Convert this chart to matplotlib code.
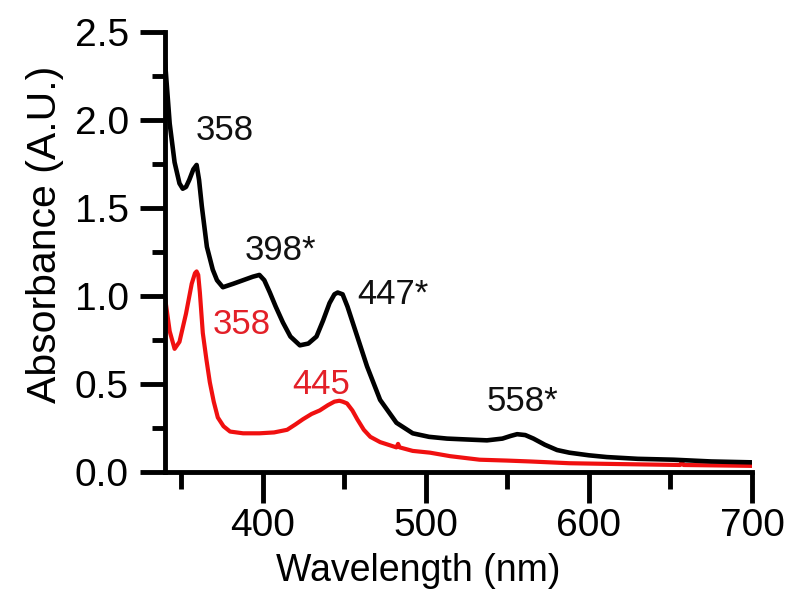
import matplotlib
matplotlib.use('Agg')
from matplotlib import pyplot as plt
from matplotlib.ticker import MultipleLocator, FormatStrFormatter

plt.rcParams['font.family'] = ['Liberation Sans', 'DejaVu Sans']

# black trace (wavelength nm, absorbance)
black_nm = [340, 343, 346, 349, 351, 353, 355, 357.5, 359.5, 361, 362.7, 365.8, 369.4,
            372, 375.6, 382, 388, 394, 398, 401, 404.4, 408, 412.4, 417, 422.8, 428,
            433, 437, 441, 444, 446, 449, 452, 458, 464, 472, 482, 492, 502, 513, 525,
            537.5, 547, 552, 556, 561, 566, 573, 580.5, 588, 600, 611, 630, 652, 675, 700]
black_abs = [2.35, 1.98, 1.76, 1.64, 1.61, 1.62, 1.66, 1.72, 1.745, 1.66, 1.51, 1.28, 1.15,
             1.09, 1.05, 1.07, 1.09, 1.11, 1.12, 1.09, 1.02, 0.94, 0.85, 0.77, 0.72, 0.73,
             0.77, 0.86, 0.96, 1.01, 1.02, 1.01, 0.94, 0.77, 0.60, 0.41, 0.28, 0.22, 0.20, 0.19, 0.185,
             0.18, 0.19, 0.205, 0.215, 0.21, 0.19, 0.155, 0.125, 0.11, 0.095, 0.085, 0.075, 0.07, 0.06, 0.055]

# red trace
red_nm = [340, 343, 346, 349, 353, 356.5, 358.5, 359.5, 360.5, 361.5, 363.3, 365.5, 367.6,
          370, 372.5, 376, 380, 388, 398, 407, 415, 420, 424.7, 430, 435, 440, 444, 447,
          449, 451.7, 455, 458, 462, 466, 472, 482, 483, 484, 492, 502.6, 515, 533, 550,
          564, 588, 620, 656, 657, 658, 700]
red_abs = [1.00, 0.80, 0.70, 0.74, 0.90, 1.07, 1.13, 1.14, 1.12, 1.02, 0.79, 0.64, 0.51,
           0.40, 0.31, 0.26, 0.23, 0.22, 0.22, 0.225, 0.24, 0.27, 0.30, 0.33, 0.35, 0.38, 0.40, 0.405,
           0.40, 0.39, 0.35, 0.30, 0.24, 0.20, 0.17, 0.14, 0.16, 0.14, 0.12, 0.11, 0.09, 0.07, 0.065,
           0.06, 0.05, 0.045, 0.04, 0.06, 0.04, 0.035]

# peak labels: (text, left x, centre y)
black_labels = [('358', 359, 1.94), ('398*', 389, 1.26), ('447*', 458, 1.01), ('558*', 537, 0.40)]
red_labels = [('358', 369.4, 0.84), ('445', 418, 0.50)]

RED = '#f01010'
RED_TXT = '#e32028'

fig = plt.figure(figsize=(8, 6.01), dpi=100)
ax = fig.add_axes([0.206, 0.2146, 0.734, 0.732])

ax.plot(red_nm, red_abs, color=RED, lw=3.0, solid_joinstyle='round')
ax.plot(black_nm, black_abs, color='black', lw=3.3, solid_joinstyle='round')

for txt, x, y in black_labels:
    ax.text(x, y, txt, fontsize=25, color='#111111', ha='left', va='center')
for txt, x, y in red_labels:
    ax.text(x, y, txt, fontsize=25, color=RED_TXT, ha='left', va='center')

ax.set_xlim(340, 700)
ax.set_ylim(0, 2.5)
ax.xaxis.set_major_locator(MultipleLocator(100))
ax.xaxis.set_minor_locator(MultipleLocator(50))
ax.yaxis.set_major_locator(MultipleLocator(0.5))
ax.yaxis.set_minor_locator(MultipleLocator(0.25))
ax.yaxis.set_major_formatter(FormatStrFormatter('%.1f'))

for s in ['top', 'right']:
    ax.spines[s].set_visible(False)
for s in ['left', 'bottom']:
    ax.spines[s].set_linewidth(3.5)

ax.tick_params(axis='x', which='major', length=22, width=3.5, labelsize=28, pad=4)
ax.tick_params(axis='x', which='minor', length=12, width=3.5)
ax.tick_params(axis='y', which='major', length=18, width=3.5, labelsize=28, pad=8)
ax.tick_params(axis='y', which='minor', length=9.5, width=3.5)

ax.set_xlabel('Wavelength (nm)', fontsize=27)
ax.set_ylabel('Absorbance (A.U.)', fontsize=29.5)
ax.xaxis.set_label_coords(0.431, -0.185)
ax.yaxis.set_label_coords(-0.172, 0.54)

fig.savefig('out.png', dpi=100)
